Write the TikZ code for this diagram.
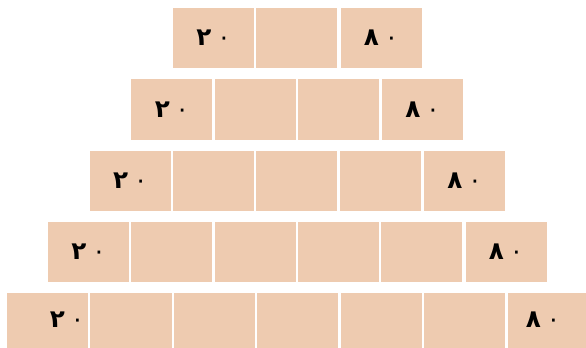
\documentclass[tikz,border=0pt]{standalone}
\usepackage{fontspec}
\newfontfamily\farsi[Script=Arabic]{DejaVu Sans}
\definecolor{tile}{RGB}{238,203,176}
\begin{document}
\begin{tikzpicture}[
    x=0.03cm, y=-0.03cm,
    cell/.style={fill=tile, minimum width=2.43cm, minimum height=1.815cm, inner sep=0pt, font=\farsi\fontsize{21}{24}\selectfont},
    num/.style={inner sep=0pt, font=\farsi\fontsize{21}{24}\selectfont}
]
\useasboundingbox (0,0) rectangle (586,348);
\clip (0,0) rectangle (586,348);

% Row 1
\node[cell] (r1a) at (213.5, 38) {{\bfseries ۲}\kern5pt۰};
\node[cell] (r1b) at (296.8, 38) {};
\node[cell] (r1c) at (381, 38) {{\bfseries ۸}\kern5pt۰};

% Row 2
\node[cell] (r2a) at (171.8, 109.5) {{\bfseries ۲}\kern5pt۰};
\node[cell] (r2b) at (255.2, 109.5) {};
\node[cell] (r2c) at (338.5, 109.5) {};
\node[cell] (r2d) at (422.5, 109.5) {{\bfseries ۸}\kern5pt۰};

% Row 3
\node[cell] (r3a) at (130.2, 181) {{\bfseries ۲}\kern5pt۰};
\node[cell] (r3b) at (213.5, 181) {};
\node[cell] (r3c) at (296.8, 181) {};
\node[cell] (r3d) at (380.2, 181) {};
\node[cell] (r3e) at (464.5, 181) {{\bfseries ۸}\kern5pt۰};

% Row 4
\node[cell] (r4a) at (88.5, 252) {{\bfseries ۲}\kern5pt۰};
\node[cell] (r4b) at (171.8, 252) {};
\node[cell] (r4c) at (255.2, 252) {};
\node[cell] (r4d) at (338.5, 252) {};
\node[cell] (r4e) at (421.8, 252) {};
\node[cell] (r4f) at (506, 252) {{\bfseries ۸}\kern5pt۰};

% Row 5 - cut off at the bottom
\node[cell] (r5a) at (47.5, 323.5) {};
\node[cell] (r5b) at (131, 323.5) {};
\node[cell] (r5c) at (214.5, 323.5) {};
\node[cell] (r5d) at (297.8, 323.5) {};
\node[cell] (r5e) at (381.2, 323.5) {};
\node[cell] (r5f) at (464.5, 323.5) {};
\node[cell] (r5g) at (548, 323.5) {};
\node[num] (n5a) at (67, 320) {{\bfseries ۲}\kern5pt۰};
\node[num] (n5g) at (543, 320) {{\bfseries ۸}\kern5pt۰};
\end{tikzpicture}
\end{document}
